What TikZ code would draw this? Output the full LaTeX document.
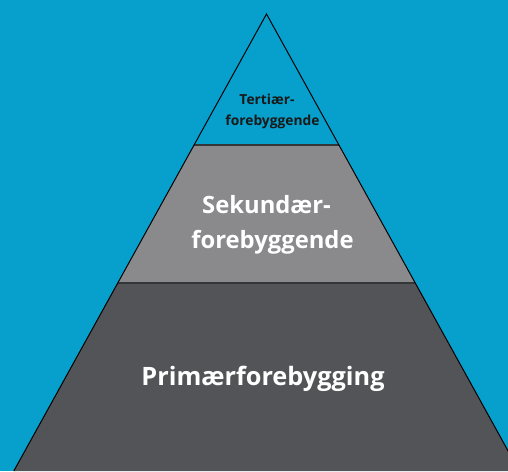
\documentclass[tikz,border=0pt]{standalone}
\usepackage{fontspec}
\setmainfont{Open Sans}
\definecolor{skyblue}{HTML}{07A0CC}
\definecolor{midgrey}{HTML}{8A8A8D}
\definecolor{darkgrey}{HTML}{535457}
\definecolor{divline}{HTML}{333638}
\tikzset{
  lvltext/.style={align=center, inner sep=0pt, anchor=base},
  edge/.style={draw=black, line width=1pt},
  divider/.style={draw=divline, line width=2pt}
}
\begin{document}
\begin{tikzpicture}[x=1pt,y=-1pt]
\useasboundingbox (0,0) rectangle (508,471);
\fill[skyblue] (0,0) rectangle (508,471);
% levels
\coordinate (apex) at (266.5,14);
\coordinate (l1) at (194.1,145); \coordinate (r1) at (338.9,145);
\coordinate (l2) at (117.7,283); \coordinate (r2) at (415.3,283);
\coordinate (l3) at (13.8,471);  \coordinate (r3) at (519.2,471);
\fill[midgrey] (l1) -- (r1) -- (r2) -- (l2) -- cycle;
\fill[darkgrey] (l2) -- (r2) -- (r3) -- (l3) -- cycle;
\draw[divider] (l1) -- (r1);
\draw[divider] (l2) -- (r2);
\draw[edge] (l3) -- (apex) -- (r3);
% labels
\node[lvltext, text=black!90, font=\fontsize{13.8}{21}\selectfont\bfseries] (tert) at (267,104) {Tertiær-};
\node[lvltext, text=black!90, font=\fontsize{13.8}{21}\selectfont\bfseries] (tert2) at (272.5,125) {forebyggende};
\node[lvltext, text=white, font=\fontsize{23.8}{35}\selectfont\bfseries] (sek) at (266.5,213) {Sekundær-};
\node[lvltext, text=white, font=\fontsize{23.8}{35}\selectfont\bfseries] (sek2) at (272.5,248) {forebyggende};
\node[lvltext, text=white, font=\fontsize{25.3}{35}\selectfont\bfseries] (prim) at (263,385) {Primærforebygging};
\end{tikzpicture}
\end{document}
